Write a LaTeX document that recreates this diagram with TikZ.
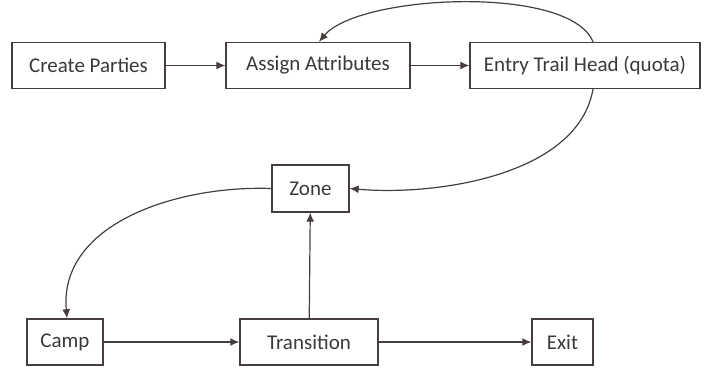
\documentclass[tikz,border=0pt]{standalone}
\usepackage{fontspec}
\setmainfont{Carlito}
\usetikzlibrary{arrows.meta}

\definecolor{boxline}{RGB}{70,62,60}
\definecolor{textgray}{RGB}{60,56,56}

\tikzset{
  stagebox/.style={draw=boxline, line width=1.4pt, minimum height=46pt, inner sep=0pt,
    font=\fontsize{21}{24}\selectfont, text=textgray},
  flow/.style={draw=boxline, line width=1.2pt, -{Latex[length=9pt,width=8pt]}}
}

\begin{document}
\begin{tikzpicture}[x=1pt, y=1pt]

%% Fixed frame, same size as the page
\useasboundingbox (0,0) rectangle (712,371);

%% Top row
\node[stagebox, minimum width=153pt] (create) at (88.5,305.5) {Create Parties};
\node[stagebox, minimum width=184pt] (assign) at (318,305.5) {Assign Attributes};
\node[stagebox, minimum width=230pt] (entry) at (585,305.5) {Entry Trail Head (quota)};

%% Middle
\node[stagebox, minimum width=77pt, minimum height=47pt] (zone) at (310.5,182.5) {Zone};

%% Bottom row
\node[stagebox, minimum width=76pt] (camp) at (65,29) {Camp};
\node[stagebox, minimum width=138pt] (trans) at (309,29) {Transition};
\node[stagebox, minimum width=61pt] (exit) at (562.5,29) {Exit};

%% Straight flows
\draw[flow] (create) -- (assign);
\draw[flow] (assign) -- (entry);
\draw[flow] (camp) -- (trans);
\draw[flow] (trans) -- (exit);
\draw[flow] (trans) -- (zone);

%% Curved flows
\draw[flow] ([xshift=8pt]entry.north) to[out=112, in=50, looseness=0.58] ([xshift=1pt]assign.north);
\draw[flow] ([xshift=8pt]entry.south) to[out=-100, in=-5, looseness=0.85] (zone.east);
\draw[flow] (zone.west) to[out=178, in=95, looseness=1.0] ([xshift=2pt]camp.north);

\end{tikzpicture}
\end{document}
